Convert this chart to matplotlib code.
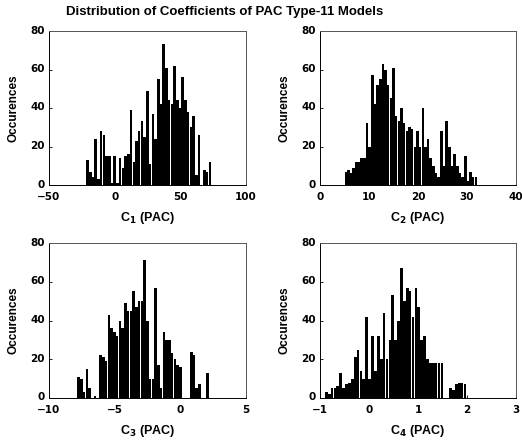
import numpy as np
import matplotlib
matplotlib.use("Agg")
import matplotlib.pyplot as plt
import matplotlib.transforms as mtransforms

plt.rcParams['font.family'] = ['Liberation Sans', 'DejaVu Sans']

title = "Distribution of Coefficients of PAC Type-11 Models"

# Histogram counts, with bin range for each panel
c1_counts = [13, 7, 4, 24, 3, 28, 26, 15, 15, 1, 15, 1, 14, 9, 15, 16, 39, 12,
             23, 28, 33, 25, 49, 11, 37, 24, 55, 42, 73, 61, 44, 42, 62, 44,
             40, 56, 44, 38, 30, 36, 5, 26, 0, 8, 7, 12]
c1_range = (-21.6, 73.6)

c2_counts = [7, 8, 6, 9, 12, 12, 14, 14, 32, 20, 57, 42, 52, 55, 63, 60, 52,
             45, 61, 36, 33, 40, 32, 28, 30, 29, 20, 28, 20, 40, 20, 24, 14,
             10, 6, 4, 28, 10, 33, 20, 10, 16, 10, 6, 4, 15, 2, 7, 4, 4]
c2_range = (5.0, 32.1)

c3_counts = [11, 10, 3, 15, 5, 0, 1, 0, 22, 21, 19, 43, 36, 34, 32, 40, 36,
             49, 45, 45, 55, 47, 50, 50, 71, 40, 10, 10, 57, 17, 5, 34, 30,
             30, 23, 20, 17, 16, 0, 0, 0, 24, 22, 5, 7, 0, 0, 13]
c3_range = (-7.84, 2.2)

c4_counts = [3, 2, 5, 5, 6, 13, 5, 7, 8, 10, 21, 25, 14, 10, 42, 10, 32, 14,
             32, 20, 44, 20, 30, 53, 30, 40, 67, 50, 57, 55, 42, 57, 47, 30,
             32, 20, 18, 18, 18, 18, 18, 0, 0, 5, 4, 7, 8, 8, 7, 0]
c4_range = (-0.9, 2.05)

xlims = [(-50, 100), (0, 40), (-10, 5), (-1, 3)]
xticks = [[-50, 0, 50, 100], [0, 10, 20, 30, 40], [-10, -5, 0, 5], [-1, 0, 1, 2, 3]]
yticks = [0, 20, 40, 60, 80]
xlabels = [r"C$_\mathbf{1}$ (PAC)", r"C$_\mathbf{2}$ (PAC)",
           r"C$_\mathbf{3}$ (PAC)", r"C$_\mathbf{4}$ (PAC)"]
ylabel = "Occurences"

counts_all = [c1_counts, c2_counts, c3_counts, c4_counts]
ranges_all = [c1_range, c2_range, c3_range, c4_range]

W, H = 522, 445
fig = plt.figure(figsize=(W / 100, H / 100), dpi=100)

# axes rectangles in pixels: (left, top, right, bottom)
rects = [(49, 31, 246, 185), (320, 31, 516, 185),
         (49, 243, 246, 398), (320, 243, 516, 398)]

up = mtransforms.ScaledTranslation(0, 1.5 / 100, fig.dpi_scale_trans)

for i in range(4):
    l, t, r, b = rects[i]
    aw, ah = r - l, b - t
    ax = fig.add_axes([l / W, 1 - b / H, aw / W, ah / H])
    counts = counts_all[i]
    lo, hi = ranges_all[i]
    edges = np.linspace(lo, hi, len(counts) + 1)
    width = edges[1] - edges[0]
    ax.bar(edges[:-1], counts, width=width * 0.94, align='edge',
           color='black', edgecolor='none')
    ax.set_xlim(*xlims[i])
    ax.set_ylim(0, 80)
    ax.set_xticks(xticks[i])
    ax.set_yticks(yticks)
    ax.tick_params(direction='in', length=2, width=0.6, labelsize=7.5)
    ax.tick_params(axis='x', pad=5)
    ax.tick_params(axis='y', pad=3)
    for lab in ax.get_xticklabels() + ax.get_yticklabels():
        lab.set_fontweight('bold')
        lab.set_family('DejaVu Sans')
    for lab in ax.get_yticklabels():
        lab.set_transform(lab.get_transform() + up)
    for s in ax.spines.values():
        s.set_linewidth(0.7)
    ax.spines['top'].set_color('#555555')
    ax.spines['right'].set_color('#555555')
    ax.set_xlabel(xlabels[i], fontsize=9, fontweight='bold', va='center')
    ax.xaxis.set_label_coords(0.5, -33 / ah)
    ax.set_ylabel(ylabel, fontsize=8.5, fontweight='bold', va='center')
    ax.yaxis.set_label_coords(-35 / aw, 0.5)

fig.text(225 / W, 1 - 12 / H, title, ha='center', va='center',
         fontsize=9.5, fontweight='bold')

fig.savefig("out.png", dpi=100)
